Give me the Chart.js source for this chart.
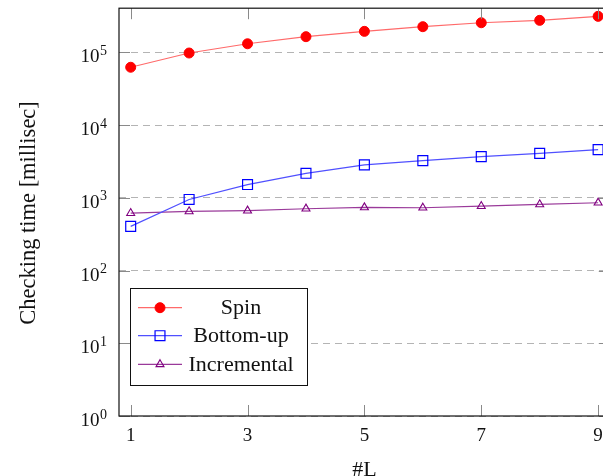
<!DOCTYPE html>
<html>
<head>
<meta charset="utf-8">
<script src="https://cdn.jsdelivr.net/npm/chart.js@4.4.1/dist/chart.umd.min.js"></script>
<style>
  html, body { margin:0; padding:0; background:#fff; overflow:hidden; }
  #wrap { position:absolute; left:0; top:0; width:618px; height:476px; }
</style>
</head>
<body>
<div id="wrap"><canvas id="chart" width="618" height="476"></canvas></div>
<script>
// Datos
const steps = [1,2,3,4,5,6,7,8,9];
const spin = [62300, 97800, 131000, 164000, 194000, 225000, 255000, 275000, 312000];
const bottomUp = [404, 948, 1520, 2170, 2830, 3240, 3680, 4080, 4590];
const incremental = [615, 649, 664, 707, 736, 729, 767, 810, 855];
const xTicks = [1,3,5,7,9];
const yTicks = [1,10,100,1000,10000,100000];
const yTitle = 'Checking time [millisec]';
const xTitle = '#L';

const SERIF = '"Liberation Serif", "DejaVu Serif", serif';

function pts(arr){ return arr.map((v,i)=>({x:steps[i], y:v})); }

function drawMark(c, style, r, x, y){
  if (style === 'circle') { c.arc(x, y, r, 0, Math.PI*2); }
  else if (style === 'rect') { const s = Math.SQRT1_2 * r; c.rect(x-s, y-s, 2*s, 2*s); }
  else if (style === 'triangle') {
    let rad = 0;
    c.moveTo(x + Math.sin(rad)*r, y - Math.cos(rad)*r);
    rad += 2*Math.PI/3; c.lineTo(x + Math.sin(rad)*r, y - Math.cos(rad)*r);
    rad += 2*Math.PI/3; c.lineTo(x + Math.sin(rad)*r, y - Math.cos(rad)*r);
    c.closePath();
  }
}

// dibuja ejes, etiquetas con superindice y leyenda
const decorations = {
  id:'decorations',
  afterDatasetsDraw(chart){
    const c = chart.ctx, a = chart.chartArea;
    const xs = chart.scales.x, ys = chart.scales.y;
    c.save();
    // tick marks
    c.strokeStyle = '#8a8a8a'; c.lineWidth = 1;
    xTicks.forEach(v=>{
      const px = Math.round(xs.getPixelForValue(v)) + 0.5;
      c.beginPath(); c.moveTo(px, a.bottom); c.lineTo(px, a.bottom-11); c.stroke();
      c.beginPath(); c.moveTo(px, a.top); c.lineTo(px, a.top+11); c.stroke();
    });
    yTicks.forEach(v=>{
      const py = Math.round(ys.getPixelForValue(v)) + 0.5;
      c.beginPath(); c.moveTo(a.left, py); c.lineTo(a.left+11, py); c.stroke();
      c.beginPath(); c.moveTo(a.right, py); c.lineTo(a.right-11, py); c.stroke();
    });
    // frame
    c.strokeStyle = '#111'; c.lineWidth = 1.2;
    c.strokeRect(a.left, a.top, a.right-a.left, a.bottom-a.top);
    // y tick labels 10^n
    c.fillStyle = '#111';
    yTicks.forEach(v=>{
      const py = ys.getPixelForValue(v);
      const exp = Math.round(Math.log10(v));
      c.font = '19px ' + SERIF; c.textAlign = 'right'; c.textBaseline = 'alphabetic';
      c.fillText('10', 99.5, py + 10);
      c.font = '14px ' + SERIF; c.textAlign = 'left';
      c.fillText(String(exp), 100, py + 2.5);
    });
    // axis titles
    c.font = '22px ' + SERIF; c.textAlign = 'center'; c.textBaseline = 'alphabetic';
    c.fillText(xTitle, (a.left + a.right)/2, 476);
    c.save();
    c.font = '22.5px ' + SERIF;
    c.translate(29, 213);
    c.rotate(-Math.PI/2);
    c.textBaseline = 'middle';
    c.fillText(yTitle, 0, 0);
    c.restore();
    // legend
    const lx = 130.5, ly = 288.5, lw = 177, lh = 97;
    c.fillStyle = '#fff'; c.fillRect(lx, ly, lw, lh);
    c.strokeStyle = '#111'; c.lineWidth = 1; c.strokeRect(lx, ly, lw, lh);
    const rows = [307.7, 335.7, 364.3];
    chart.data.datasets.forEach((ds, i)=>{
      const y = rows[i];
      c.strokeStyle = ds.borderColor; c.lineWidth = ds.borderWidth;
      c.beginPath(); c.moveTo(138, y); c.lineTo(182, y); c.stroke();
      c.fillStyle = ds.pointBackgroundColor; c.strokeStyle = ds.pointBorderColor;
      c.lineWidth = ds.pointBorderWidth;
      c.beginPath();
      drawMark(c, ds.pointStyle, ds.pointRadius, 160, y);
      c.fill();
      c.stroke();
      c.fillStyle = '#111'; c.font = '22px ' + SERIF;
      c.textAlign = 'center'; c.textBaseline = 'middle';
      c.fillText(ds.label, 241, y + 1);
    });
    c.restore();
  }
};

new Chart(document.getElementById('chart').getContext('2d'), {
  type: 'line',
  data: {
    datasets: [
      { label:'Spin', data: pts(spin), borderColor:'#ff6a6a', borderWidth:1.2,
        pointStyle:'circle', pointRadius:5, pointBackgroundColor:'#ff0000', pointBorderColor:'#ff0000', pointBorderWidth:1 },
      { label:'Bottom-up', data: pts(bottomUp), borderColor:'#5050ff', borderWidth:1.2,
        pointStyle:'rect', pointRadius:7, pointBackgroundColor:'rgba(255,255,255,0)', pointBorderColor:'#0000ff', pointBorderWidth:1.2 },
      { label:'Incremental', data: pts(incremental), borderColor:'#9a3a9a', borderWidth:1.2,
        pointStyle:'triangle', pointRadius:4.6, pointBackgroundColor:'rgba(255,255,255,0)', pointBorderColor:'#800080', pointBorderWidth:1.1 }
    ]
  },
  options: {
    responsive: false,
    animation: false,
    events: [],
    layout: { padding: { top: 8, right: 3, left: 0, bottom: 0 } },
    plugins: { legend: { display:false }, tooltip: { enabled:false } },
    elements: { line: { tension: 0 } },
    scales: {
      x: {
        type: 'linear', min: 0.8, max: 9.2,
        afterBuildTicks(s){ s.ticks = xTicks.map(v=>({value:v})); },
        afterFit(s){ s.height = 60; },
        grid: { display:false, drawTicks:false },
        border: { display:false },
        ticks: { padding: 9, color:'#111', font: { family: SERIF, size: 19 } }
      },
      y: {
        type: 'logarithmic', min: 1, max: 404000,
        afterBuildTicks(s){ s.ticks = yTicks.map(v=>({value:v})); },
        afterFit(s){ s.width = 119; },
        grid: { color:'#b4b4b4', lineWidth:1, drawTicks:false },
        border: { display:false, dash:[7,5] },
        ticks: { display:false }
      }
    }
  },
  plugins: [decorations]
});
</script>
</body>
</html>
